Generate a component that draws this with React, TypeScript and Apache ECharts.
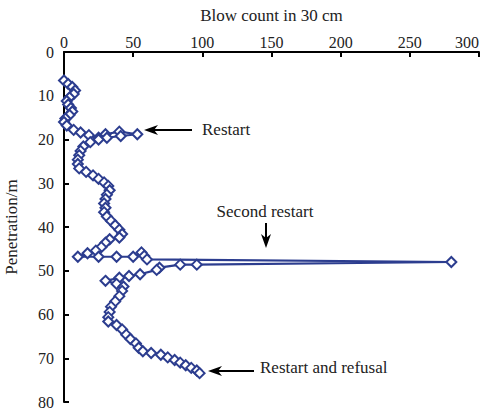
import React, { useEffect, useRef } from "react";
import * as echarts from "echarts";

const xTicks = [0, 50, 100, 150, 200, 250, 300];
const yTicks = [0, 10, 20, 30, 40, 50, 60, 70, 80];

const depths = [
  6.5, 7.3, 8.0, 8.8, 9.6, 10.4, 11.2, 12.0, 12.8, 13.6, 14.4, 15.2, 16.0, 16.8,
  17.8, 18.4, 19.0, 19.6, 18.8, 18.2, 18.8, 19.2, 19.6, 20.0, 20.6, 21.6, 22.6,
  23.6, 24.6, 25.6, 26.6, 27.4, 28.2, 29.0, 29.8, 30.6, 31.6, 32.6, 33.6, 34.6,
  35.6, 36.6, 37.6, 38.6, 39.6, 40.6, 41.6, 42.4, 42.8, 43.6, 44.6, 45.4, 46.0,
  46.8, 46.8, 46.8, 46.8, 45.8, 46.6, 47.4, 48.0, 48.6, 48.6, 49.3, 49.8, 50.8,
  51.2, 51.6, 52.3, 53.0, 53.6, 54.6, 55.8, 57.0, 58.2, 59.4, 60.6, 61.6, 62.4,
  63.4, 64.6, 65.6, 66.6, 67.6, 68.4, 68.8, 69.2, 69.8, 70.4, 71.0, 71.6, 72.2,
  72.8, 73.4,
];

const blowCounts = [
  0, 3, 6, 8, 7, 4, 2, 3, 5, 6, 4, 1, 0, 2,
  7, 12, 18, 25, 30, 40, 53, 41, 31, 25, 19, 14, 12,
  11, 10, 10, 11, 16, 21, 25, 29, 32, 33, 31, 30, 29,
  30, 29, 31, 34, 37, 40, 42, 40, 33, 30, 27, 23, 17,
  10, 25, 38, 50, 56, 58, 60, 280, 96, 84, 69, 67, 55,
  47, 40, 30, 38, 43, 42, 40, 37, 34, 33, 32, 32, 38,
  42, 45, 48, 52, 54, 57, 63, 70, 75, 80, 84, 88, 92,
  96, 98,
];

const xAxisTitle = "Blow count in 30 cm";
const yAxisTitle = "Penetration/m";
const annotations = ["Restart", "Second restart", "Restart and refusal"];

const SERIF = "'Liberation Serif', 'DejaVu Serif', serif";
const BLUE = "#2c3d8f";

export default function App() {
  const ref = useRef<HTMLDivElement>(null);

  useEffect(() => {
    if (!ref.current) return;
    const chart = echarts.init(ref.current, null, { renderer: "svg" });
    const data = depths.map((d, i) => [blowCounts[i], d]);
    const arrowStyle = { stroke: "#000", lineWidth: 2 };
    chart.setOption({
      animation: false,
      backgroundColor: "#fff",
      grid: { left: 64, right: 7, top: 52, bottom: 10, containLabel: false, outerBoundsMode: "none" },
      xAxis: {
        type: "value",
        position: "top",
        min: xTicks[0],
        max: xTicks[xTicks.length - 1],
        interval: 50,
        name: xAxisTitle,
        nameLocation: "middle",
        nameGap: 28,
        nameTextStyle: { fontFamily: SERIF, fontSize: 17, color: "#222" },
        axisLine: { show: true, lineStyle: { color: "#000", width: 2 } },
        axisTick: { show: true, inside: true, length: 5, lineStyle: { color: "#000", width: 2 } },
        axisLabel: { fontFamily: SERIF, fontSize: 16, color: "#222", margin: 2, alignMaxLabel: "right" },
        splitLine: { show: false },
      },
      yAxis: {
        type: "value",
        inverse: true,
        min: yTicks[0],
        max: yTicks[yTicks.length - 1],
        interval: 10,
        name: yAxisTitle,
        nameLocation: "middle",
        nameGap: 44,
        nameRotate: 90,
        nameTextStyle: { fontFamily: SERIF, fontSize: 17, color: "#222" },
        axisLine: { show: true, lineStyle: { color: "#000", width: 2 } },
        axisTick: { show: true, inside: true, length: 5, lineStyle: { color: "#000", width: 2 } },
        axisLabel: { fontFamily: SERIF, fontSize: 16, color: "#222", margin: 10 },
        splitLine: { show: false },
      },
      series: [
        {
          type: "line",
          data,
          symbol: "emptyDiamond",
          symbolSize: [10, 10],
          lineStyle: { color: BLUE, width: 2.2 },
          itemStyle: { color: BLUE, borderColor: BLUE, borderWidth: 2.2 },
          z: 3,
        },
      ],
      graphic: [
        { type: "line", shape: { x1: 192, y1: 130, x2: 152, y2: 130 }, style: arrowStyle },
        { type: "polygon", shape: { points: [[144, 130], [158, 125], [154, 130], [158, 135]] }, style: { fill: "#000" } },
        {
          type: "text", x: 202, y: 129,
          style: { text: annotations[0], fontFamily: SERIF, fontSize: 17, fill: "#222", verticalAlign: "middle", align: "left" },
        },
        {
          type: "text", x: 265, y: 211,
          style: { text: annotations[1], fontFamily: SERIF, fontSize: 17, fill: "#222", verticalAlign: "middle", align: "center" },
        },
        { type: "line", shape: { x1: 266, y1: 223, x2: 266, y2: 240 }, style: arrowStyle },
        { type: "polygon", shape: { points: [[266, 248], [261, 234], [266, 238], [271, 234]] }, style: { fill: "#000" } },
        { type: "line", shape: { x1: 254, y1: 371, x2: 216, y2: 371 }, style: arrowStyle },
        { type: "polygon", shape: { points: [[208, 371], [222, 366], [218, 371], [222, 376]] }, style: { fill: "#000" } },
        {
          type: "text", x: 260, y: 367,
          style: { text: annotations[2], fontFamily: SERIF, fontSize: 17, fill: "#222", verticalAlign: "middle", align: "left" },
        },
      ],
    });
    return () => chart.dispose();
  }, []);

  return (
    <div
      ref={ref}
      style={{ position: "fixed", left: 0, top: 0, width: 486, height: 412 }}
    />
  );
}
